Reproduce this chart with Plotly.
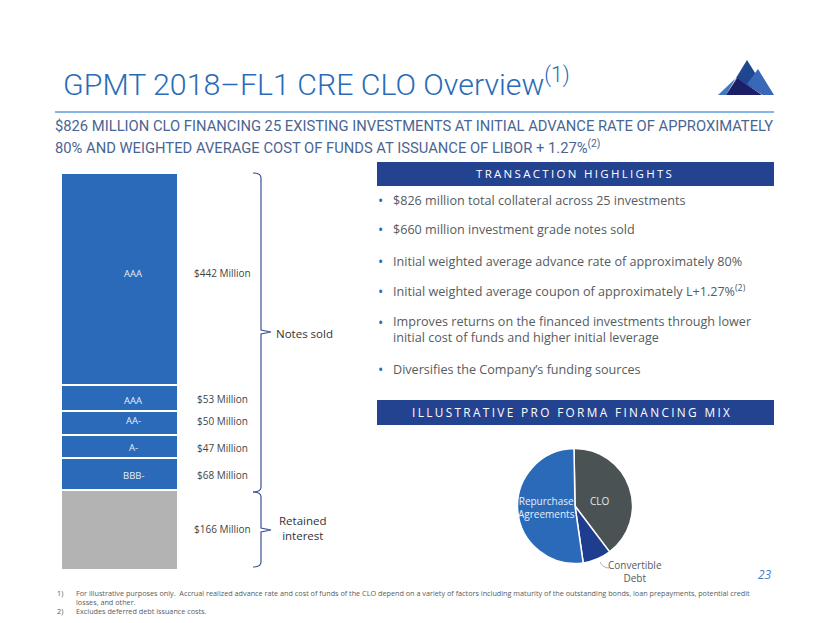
"""GPMT 2018-FL1 CRE CLO overview slide."""
import plotly.graph_objects as go

W, H = 830, 623

# capital stack, bottom to top ($ millions)
TRANCHES = ["Retained", "BBB-", "A-", "AA-", "AAA (2)", "AAA"]
TRANCHE_VALUES = [166, 68, 47, 50, 53, 442]
TRANCHE_TEXT = ["", "BBB-", "A-", "AA-", "AAA", "AAA"]
AMOUNT_LABELS = ["$166 Million", "$68 Million", "$47 Million", "$50 Million", "$53 Million", "$442 Million"]

MIX_LABELS = ["CLO", "Convertible Debt", "Repurchase Agreements"]
MIX_VALUES = [40, 8, 52]

HIGHLIGHTS = [
    "$826 million total collateral across 25 investments",
    "$660 million investment grade notes sold",
    "Initial weighted average advance rate of approximately 80%",
    "Initial weighted average coupon of approximately L+1.27%<sup>(2)</sup>",
    "Improves returns on the financed investments through lower<br>initial cost of funds and higher initial leverage",
    "Diversifies the Company’s funding sources",
]

FONT = "Open Sans"
TITLE_FONT = "Roboto"
BLUE = "#2a6ab8"
NAVY = "#234390"
GREY_TEXT = "#555c60"


def px(x):
    return x / W


def py(y):
    return 1 - y / H


def note(x, y, text, size=10, color=GREY_TEXT, anchor="center", family=FONT, weight=None):
    font = dict(size=size, color=color, family=family)
    if weight:
        font["weight"] = weight
    return dict(
        x=px(x), y=py(y), xref="paper", yref="paper", text=text, showarrow=False,
        xanchor=anchor, yanchor="middle", align=anchor, font=font,
    )


def spaced(text):
    return "\u200a\u200a".join(text)


def brace(top, bottom, mid):
    x0, x1, tip = 253, 261, 271
    return dict(
        type="path", xref="paper", yref="paper", line=dict(color="#3a5298", width=1.2),
        path=(
            f"M {px(x0)} {py(top)} Q {px(x1)} {py(top)} {px(x1)} {py(top + 5)} "
            f"L {px(x1)} {py(mid - 2)} L {px(tip)} {py(mid)} L {px(x1)} {py(mid + 2)} "
            f"L {px(x1)} {py(bottom - 5)} Q {px(x1)} {py(bottom)} {px(x0)} {py(bottom)}"
        ),
    )


def poly(points, color):
    path = "M " + " L ".join(f"{px(x)} {py(y)}" for x, y in points) + " Z"
    return dict(type="path", xref="paper", yref="paper", path=path, fillcolor=color, line=dict(width=0))


def rect(x0, y0, x1, y1, color):
    return dict(type="rect", xref="paper", yref="paper", x0=px(x0), x1=px(x1), y0=py(y0), y1=py(y1),
                fillcolor=color, line=dict(width=0), layer="below")


fig = go.Figure()

for name, value in zip(TRANCHES, TRANCHE_VALUES):
    fig.add_trace(go.Bar(
        x=["stack"], y=[value], name=name, width=1,
        marker=dict(color="#b3b3b3" if name == "Retained" else BLUE, line=dict(color="white", width=2)),
    ))

fig.add_trace(go.Pie(
    labels=MIX_LABELS, values=MIX_VALUES, sort=False, direction="clockwise", rotation=-1,
    marker=dict(colors=["#4b5254", "#1f3d8f", BLUE], line=dict(color="white", width=1.5)),
    textinfo="none", showlegend=False,
    domain=dict(x=[px(517.5), px(632.5)], y=[py(563.5), py(448.5)]),
))

annotations = []
# tranche labels sit a bit off the segment centres in the original
for text, y in zip(TRANCHE_TEXT, [530, 475, 447, 420, 400, 273]):
    if text:
        annotations.append(note(133, y, text, size=9.5, color="#e6eefa"))
for text, y in zip(AMOUNT_LABELS, [529, 475, 448, 421, 399, 273]):
    annotations.append(note(222, y, text, size=10, color="#3f4548"))
annotations.append(note(304, 333, "Notes sold", size=11.5, color="#333"))
annotations.append(note(303, 528, "Retained<br>interest", size=11.5, color="#333"))

annotations.append(note(61, 82, "GPMT 2018–FL1 CRE CLO Overview<sup>(1)</sup>", size=30.3, color=BLUE, anchor="left",
                        family=TITLE_FONT, weight=300))
annotations.append(note(53, 126, "$826 MILLION CLO FINANCING 25 EXISTING INVESTMENTS AT INITIAL ADVANCE RATE OF APPROXIMATELY",
                        size=14.75, color="#4a6592", anchor="left", family=TITLE_FONT))
annotations.append(note(53, 147, "80% AND WEIGHTED AVERAGE COST OF FUNDS AT ISSUANCE OF LIBOR + 1.27%<sup>(2)</sup>",
                        size=14.75, color="#4a6592", anchor="left", family=TITLE_FONT))

annotations.append(note(574, 174, spaced("TRANSACTION HIGHLIGHTS"), size=11.5, color="white"))
annotations.append(note(571, 412, spaced("ILLUSTRATIVE PRO FORMA FINANCING MIX"), size=11.8, color="white"))

for text, y in zip(HIGHLIGHTS, [200, 230, 261, 291, 330, 369]):
    annotations.append(note(391, y, text, size=12.6, anchor="left"))
for y in [200, 230, 261, 291, 322, 369]:
    annotations.append(note(380, y, "•", size=14, color=BLUE))

annotations.append(note(600, 501, "CLO", size=10, color="#e8e8e8"))
annotations.append(note(546, 507, "Repurchase<br>Agreements", size=10, color="#e6eefa"))
annotations.append(note(635, 571, "Convertible<br>Debt", size=10, color="#555c60"))

annotations.append(note(55, 593, "1)", size=7.25, anchor="left"))
annotations.append(note(74, 593, (
    "For illustrative purposes only.  Accrual realized advance rate and cost of funds of the CLO depend on a variety of "
    "factors including maturity of the outstanding bonds, loan prepayments, potential credit"
), size=7.25, anchor="left"))
annotations.append(note(74, 602, "losses, and other.", size=7.25, anchor="left"))
annotations.append(note(55, 611, "2)", size=7.25, anchor="left"))
annotations.append(note(74, 611, "Excludes deferred debt issuance costs.", size=7.25, anchor="left"))
annotations.append(note(765, 574, "<i>23</i>", size=12, color="#3f7fc4"))

shapes = [
    dict(type="line", xref="paper", yref="paper", x0=px(55), x1=px(774), y0=py(112), y1=py(112),
         line=dict(color="#86b4e4", width=2)),
    rect(377, 162, 774, 186, NAVY),
    rect(377, 400, 774, 425, NAVY),
    brace(173, 492, 332),
    brace(492, 567, 530),
    dict(type="path", xref="paper", yref="paper", line=dict(color="#9a9a9a", width=0.8),
         path=f"M {px(600)} {py(562)} Q {px(603)} {py(568)} {px(609)} {py(568)}"),
    # logo
    poly([(718, 95), (736, 78), (726, 95)], "#3f77c4"),
    poly([(747, 60), (736, 78), (763, 95), (762, 84)], "#1f4690"),
    poly([(758, 69), (774, 95), (763, 95), (747, 84)], "#3a68b8"),
    poly([(737, 78), (726, 95), (762, 95)], "#1d1f66"),
]

fig.update_layout(
    width=W, height=H, margin=dict(l=0, r=0, t=0, b=0), barmode="stack", bargap=0,
    paper_bgcolor="white", plot_bgcolor="white", showlegend=False,
    xaxis=dict(domain=[px(61), px(178)], visible=False, fixedrange=True),
    yaxis=dict(domain=[py(570), py(173)], range=[0, sum(TRANCHE_VALUES)], visible=False, fixedrange=True),
    annotations=annotations, shapes=shapes,
)

fig.write_html("out.html", config={"displayModeBar": False},
               post_script="document.body.style.margin='0';")
